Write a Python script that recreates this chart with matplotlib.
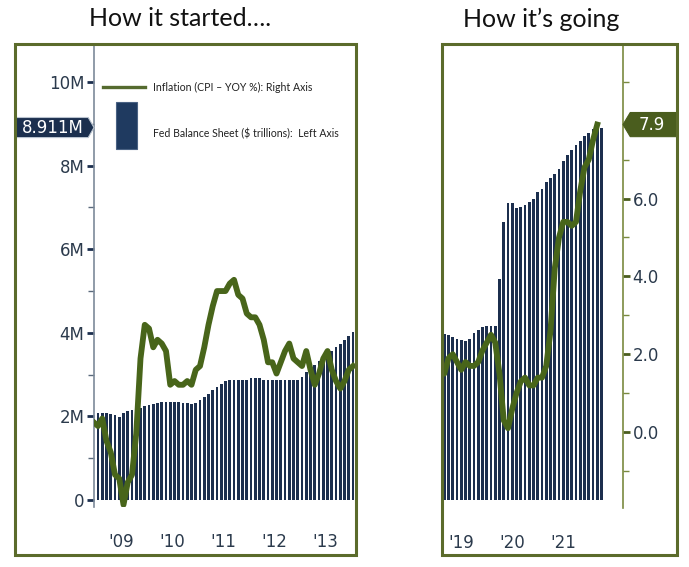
import matplotlib.pyplot as plt
import matplotlib.transforms as mtransforms
from matplotlib.lines import Line2D
from matplotlib.patches import Rectangle, Polygon

W, H = 689, 567

# ---- data ----
# left panel, months counted from Jan 2009 (month 0)
cpi_then_months = list(range(-1, 61))          # Dec 2008 .. Jan 2014
cpi_then = [0.1,
            0.0, 0.2, -0.4, -0.7, -1.3, -1.4, -2.1, -1.5, -1.3, -0.2, 1.8, 2.7,
            2.6, 2.1, 2.3, 2.2, 2.0, 1.1, 1.2, 1.1, 1.1, 1.2, 1.1, 1.5,
            1.6, 2.1, 2.7, 3.2, 3.6, 3.6, 3.6, 3.8, 3.9, 3.5, 3.4, 3.0,
            2.9, 2.9, 2.7, 2.3, 1.7, 1.7, 1.4, 1.7, 2.0, 2.2, 1.8, 1.7,
            1.6, 2.0, 1.5, 1.1, 1.4, 1.8, 2.0, 1.5, 1.2, 1.0, 1.2, 1.5,
            1.6]
fed_then_months = list(range(0, 61))           # Jan 2009 .. Jan 2014
fed_then = [2.07, 2.07, 2.07, 2.06, 2.03, 1.99, 2.07, 2.12, 2.15, 2.18, 2.21, 2.24,
            2.27, 2.30, 2.33, 2.35, 2.35, 2.35, 2.35, 2.34, 2.33, 2.31, 2.30, 2.31,
            2.38, 2.46, 2.54, 2.62, 2.70, 2.78, 2.85, 2.87, 2.87, 2.87, 2.87, 2.87,
            2.92, 2.92, 2.92, 2.87, 2.87, 2.87, 2.86, 2.86, 2.86, 2.86, 2.86, 2.88,
            2.95, 3.05, 3.15, 3.24, 3.32, 3.40, 3.48, 3.57, 3.66, 3.74, 3.83, 3.93,
            4.02]
years_then = ["'09", "'10", "'11", "'12", "'13"]

# right panel, months counted from Jan 2019 (month 0)
cpi_now_months = list(range(-1, 38))           # Dec 2018 .. Feb 2022
cpi_now = [1.9,
           1.6, 1.5, 1.9, 2.0, 1.8, 1.6, 1.8, 1.7, 1.7, 1.8, 2.1, 2.3,
           2.5, 2.3, 1.5, 0.3, 0.1, 0.6, 1.0, 1.3, 1.4, 1.2, 1.2, 1.4,
           1.4, 1.7, 2.6, 4.2, 5.0, 5.4, 5.4, 5.3, 5.4, 6.2, 6.8, 7.0,
           7.5, 7.9]
fed_now_months = list(range(0, 39))           # Jan 2019 .. Mar 2022
fed_now = [4.05, 3.97, 3.95, 3.90, 3.85, 3.82, 3.80, 3.85, 4.00, 4.07, 4.15, 4.16,
           4.17, 4.16, 5.30, 6.65, 7.10, 7.10, 6.98, 7.00, 7.05, 7.13, 7.20, 7.37,
           7.45, 7.60, 7.70, 7.80, 7.93, 8.10, 8.25, 8.37, 8.49, 8.60, 8.72, 8.78,
           8.88, 8.91, 8.911]
years_now = ["'19", "'20", "'21"]

bar_color = '#1c2f4e'
line_color = '#48651a'
frame_color = '#5b6b2b'
label_color = '#2b3a4c'
tag_green = '#4a5d1e'

plt.rcParams['font.family'] = ['DejaVu Sans']


def px_rect(x0, y0, x1, y1):
    # pixel box (top-left origin) -> figure fractions
    return [x0 / W, 1 - y1 / H, (x1 - x0) / W, (y1 - y0) / H]


fig = plt.figure(figsize=(W / 100, H / 100), dpi=100)

# frames round both panels
for x0, x1 in [(15, 356), (442, 677)]:
    fig.patches.append(Rectangle((x0 / W, 1 - 555 / H), (x1 - x0) / W, (555 - 44) / H,
                                 transform=fig.transFigure, fill=False,
                                 ec=frame_color, lw=2.2))

fig.text(180 / W, 1 - 19 / H, "How it started\u2026.", family='Lato', fontsize=18,
         ha='center', va='center', color='#111111')
fig.text(541 / W, 1 - 19 / H, "How it\u2019s going", family='Lato', fontsize=18,
         ha='center', va='center', color='#111111')

# ---------------- left panel ----------------
ax1 = fig.add_axes(px_rect(94, 44, 356, 507))
ax1.bar(fed_then_months, fed_then, width=0.6, color=bar_color, zorder=2)
ax1.set_xlim(-0.94, 60.7)
ax1.set_ylim(-0.17, 10.91)
for s in ['top', 'right', 'bottom']:
    ax1.spines[s].set_visible(False)
ax1.spines['left'].set_color('#7d8a9a')
ax1.spines['left'].set_linewidth(1.2)
ax1.set_yticks([0, 2, 4, 6, 8, 10])
ax1.set_yticklabels(['0', '2M', '4M', '6M', '8M', '10M'])
ax1.set_yticks([1, 3, 5, 7, 9], minor=True)
ax1.tick_params(axis='y', which='major', length=5, width=2, color=bar_color,
                labelsize=12, labelcolor=label_color, pad=2)
ax1.tick_params(axis='y', which='minor', length=4, width=1, color='#5a6a7c')
ax1.set_xticks([5.4 + 12 * i for i in range(len(years_then))])
ax1.set_xticklabels(years_then)
ax1.tick_params(axis='x', length=0, labelsize=12, labelcolor=label_color, pad=19)

ax1b = ax1.twinx()
ax1b.plot(cpi_then_months, cpi_then, color=line_color, lw=4.2, solid_joinstyle='round')
ax1b.set_ylim(-2.16, 10.19)
ax1b.axis('off')

# last balance sheet value tag on the left axis
blend1 = mtransforms.blended_transform_factory(ax1.transAxes, ax1.transData)
v = fed_now[-1]
hh = 0.24
ax1.add_patch(Polygon([(-0.298, v + hh), (-0.022, v + hh), (0.0, v),
                       (-0.022, v - hh), (-0.298, v - hh)], closed=True,
                      transform=blend1, fc='#1b2f4e', ec='#b9c3cf', lw=0.8,
                      clip_on=False, zorder=5))
ax1.text(-0.158, v, "%.3fM" % v, transform=blend1, ha='center', va='center',
         color='white', fontsize=12, zorder=6, clip_on=False)

# legend
fig.lines.append(Line2D([103 / W, 145 / W], [1 - 87 / H, 1 - 87 / H],
                        transform=fig.transFigure, color='#556b2f', lw=2.4))
fig.patches.append(Rectangle((116 / W, 1 - 149 / H), 21 / W, 47 / H,
                             transform=fig.transFigure, fc='#1f3a60', ec='#4a6284', lw=0.8))
fig.text(153 / W, 1 - 87 / H, "Inflation (CPI \u2013 YOY %): Right Axis", family='Lato',
         fontsize=7.6, va='center', color='#222222')
fig.text(153 / W, 1 - 134 / H, "Fed Balance Sheet (\\$ trillions):  Left Axis", family='Lato',
         fontsize=7.6, va='center', color='#222222')

# ---------------- right panel ----------------
ax2 = fig.add_axes(px_rect(442, 44, 623, 508))
ax2.bar(fed_now_months, fed_now, width=0.6, color=bar_color)
ax2.set_xlim(0.47, 43.06)
ax2.set_ylim(-0.19, 10.91)
for s in ['top', 'right', 'bottom', 'left']:
    ax2.spines[s].set_visible(False)
ax2.set_yticks([])
ax2.set_xticks([4.9 + 12 * i for i in range(len(years_now))])
ax2.set_xticklabels(years_now)
ax2.tick_params(axis='x', length=0, labelsize=12, labelcolor=label_color, pad=19)

ax2b = ax2.twinx()
ax2b.plot(cpi_now_months, cpi_now, color=line_color, lw=4.2, solid_joinstyle='round')
ax2b.set_ylim(-1.95, 9.97)
for s in ['top', 'left', 'bottom']:
    ax2b.spines[s].set_visible(False)
ax2b.spines['right'].set_color('#7a8a40')
ax2b.spines['right'].set_linewidth(1.2)
ax2b.set_yticks([0, 2, 4, 6])
ax2b.set_yticklabels(['0.0', '2.0', '4.0', '6.0'])
ax2b.set_yticks([-1, 1, 3, 5, 7, 9], minor=True)
ax2b.tick_params(axis='y', which='major', length=5, width=2, color=tag_green,
                 labelsize=12, labelcolor=label_color, pad=2)
ax2b.tick_params(axis='y', which='minor', length=4, width=1, color='#7a8a40')

# last CPI value tag on the right axis
blend2 = mtransforms.blended_transform_factory(ax2b.transAxes, ax2b.transData)
c = cpi_now[-1]
hc = 0.31
ax2b.add_patch(Polygon([(1.0, c), (1.04, c + hc), (1.298, c + hc),
                        (1.298, c - hc), (1.04, c - hc)], closed=True,
                       transform=blend2, fc=tag_green, ec=tag_green, lw=0.8,
                       clip_on=False, zorder=5))
ax2b.text(1.16, c, "%.1f" % c, transform=blend2, ha='center', va='center',
          color='white', fontsize=12, zorder=6, clip_on=False)

fig.savefig("out.png", dpi=100)
